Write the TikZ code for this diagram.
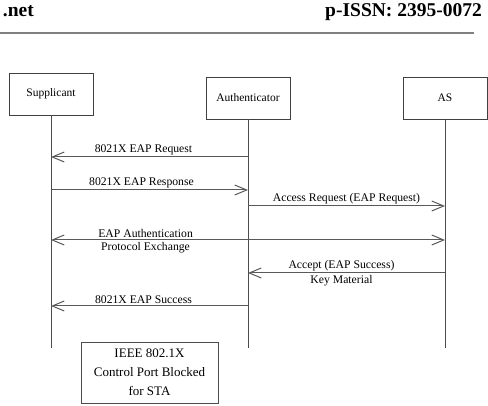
\documentclass[tikz,border=0pt]{standalone}
\usepackage{fontspec}
\setmainfont{Liberation Serif}
\usetikzlibrary{arrows.meta, positioning, calc}

\begin{document}
\begin{tikzpicture}[
  x=1pt, y=-1pt,
  actor/.style ={draw=black!75, line width=0.8pt, minimum width=84pt,
                 minimum height=42pt, align=center, font=\fontsize{11.5}{13}\selectfont},
  life/.style  ={draw=black!70, line width=1pt},
  msg/.style   ={draw=black!65, line width=1pt, -{Straight Barb[length=12pt,width=10pt]}},
  dmsg/.style  ={draw=black!65, line width=1pt, {Straight Barb[length=12pt,width=10pt]}-{Straight Barb[length=12pt,width=10pt]}},
  lbl/.style   ={font=\fontsize{11.7}{13}\selectfont, inner sep=1.5pt},
  hdr/.style   ={font=\fontsize{19.5}{22}\selectfont\bfseries, inner sep=0pt, anchor=base east},
]
\useasboundingbox (0,0) rectangle (488,406);

%% ---- Page header ----
\node[hdr] (site) at (34,17) {.net};
\node[hdr] (issn) at (482,17) {p-ISSN: 2395-0072};
\draw[black!50, line width=1.3pt] (0,33) -- (474,33);

%% ---- Actors ----
\node[actor] (sup)  at (51,94)  {Supplicant};
\node[actor] (auth) at (248,98) {Authenticator};
\node[actor] (as)   at (445,98) {AS};

%% ---- Lifelines ----
\coordinate (supend)  at (sup.south |- 0,348);
\coordinate (authend) at (auth.south |- 0,348);
\coordinate (asend)   at (as.south |- 0,348);
\draw[life] (sup.south)  -- (supend);
\draw[life] (auth.south) -- (authend);
\draw[life] (as.south)   -- (asend);

%% ---- Messages ----
\draw[msg] (auth.south |- 0,157) -- node[lbl, above, xshift=-6pt]{8021X EAP Request} (sup.south |- 0,157);
\draw[msg] (sup.south |- 0,190) -- node[lbl, above, xshift=-8pt]{8021X EAP Response} (auth.south |- 0,190);
\draw[msg] (auth.south |- 0,206) -- node[lbl, above]{Access Request (EAP Request)} (as.south |- 0,206);
\draw[dmsg] (sup.south |- 0,240) --
  node[lbl, above, pos=0.24]{EAP Authentication}
  node[lbl, below, pos=0.24]{Protocol Exchange} (as.south |- 0,240);
\draw[msg] (as.south |- 0,273) --
  node[lbl, above, xshift=-5pt]{Accept (EAP Success)}
  node[lbl, below, xshift=-5pt]{Key Material} (auth.south |- 0,273);
\draw[msg] (auth.south |- 0,306) -- node[lbl, above, xshift=-6pt]{8021X EAP Success} (sup.south |- 0,306);

%% ---- Port state ----
\node[draw=black!70, line width=0.8pt, minimum width=137pt, minimum height=61pt,
      align=center, font=\fontsize{13}{19}\selectfont] (port) at (149.5,372.5)
      {IEEE 802.1X\\Control Port Blocked\\for STA};

\end{tikzpicture}
\end{document}
